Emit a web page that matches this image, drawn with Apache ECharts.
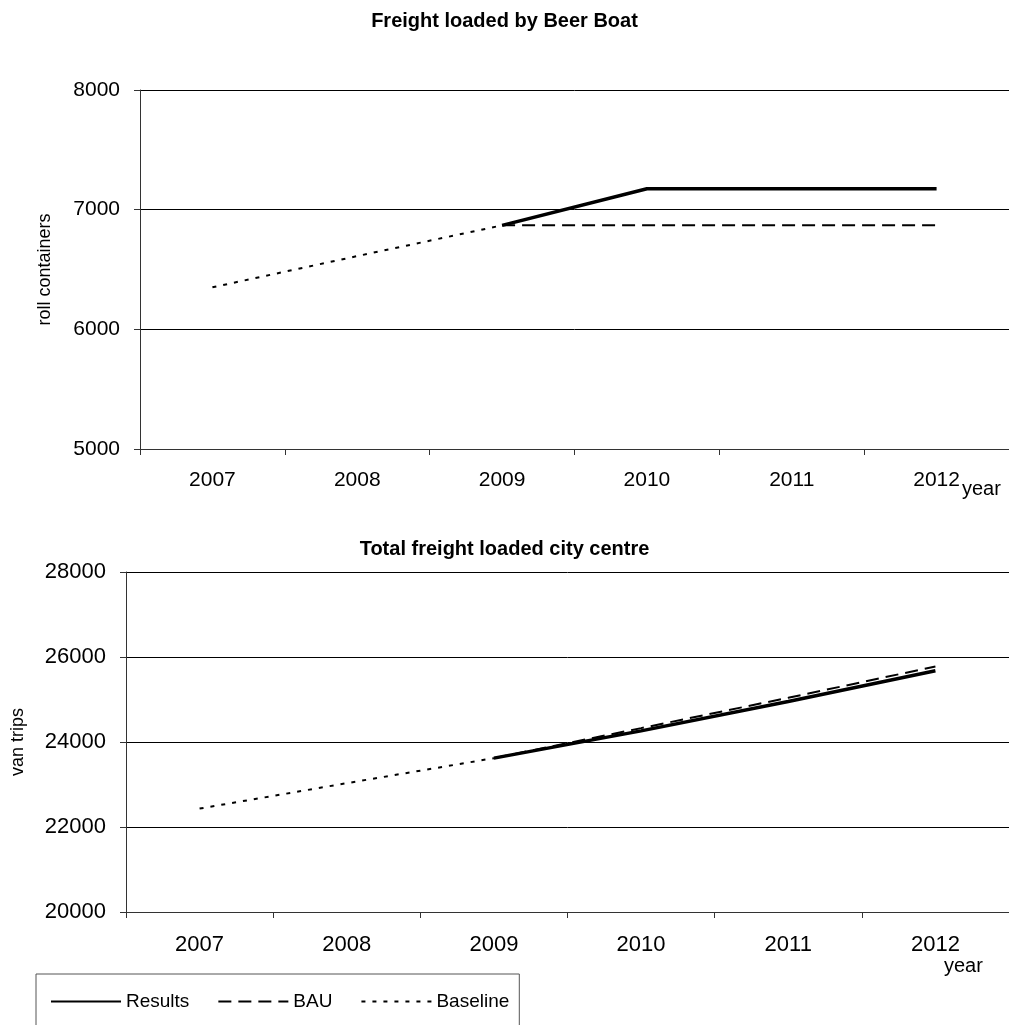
<!DOCTYPE html>
<html>
<head>
<meta charset="utf-8">
<script src="https://cdn.jsdelivr.net/npm/echarts@6/dist/echarts.min.js"></script>
<style>html,body{margin:0;padding:0;background:#fff;}#c{width:1009px;height:1025px;}</style>
</head>
<body>
<div id="c"></div>
<script>
const years = ['2007','2008','2009','2010','2011','2012'];
const boatResults  = [null, null, 6869, 7175, 7175, 7175];
const boatBAU      = [null, null, 6869, 6870, 6870, 6870];
const boatBaseline = [6351, 6612, 6869, null, null, null];
const cityResults  = [null, null, 23620, 24262, 24953, 25676];
const cityBAU      = [null, null, 23620, 24326, 25040, 25777];
const cityBaseline = [22433, 23031, 23620, null, null, null];

const FONT = 'Liberation Sans, Arial, sans-serif';
const chart = echarts.init(document.getElementById('c'));

function xAxisDef(gridIndex, margin, fs){
  return {
    type:'category', gridIndex, data: years, boundaryGap:true,
    axisLine:{lineStyle:{color:'#333', width:1}},
    axisTick:{show:true, alignWithLabel:false, length:6, inside:false, lineStyle:{color:'#333'}},
    axisLabel:{color:'#000', fontSize:fs, fontFamily:FONT, margin},
    splitLine:{show:false}
  };
}
function yAxisDef(gridIndex, min, max, interval, name, gap, fs){
  return {
    type:'value', gridIndex, min, max, interval,
    name, nameLocation:'middle', nameGap:gap,
    nameTextStyle:{color:'#000', fontSize:18, fontFamily:FONT},
    axisLine:{show:true, lineStyle:{color:'#333', width:1}},
    axisTick:{show:true, length:6, lineStyle:{color:'#333'}},
    axisLabel:{color:'#000', fontSize:fs, fontFamily:FONT, margin:20, formatter: v => String(v)},
    splitLine:{show:true, lineStyle:{color:'#000', width:1}}
  };
}
function lines(xi, yi, r, b, bl){
  return [
    {name:'Results', type:'line', xAxisIndex:xi, yAxisIndex:yi, data:r, symbol:'none',
     itemStyle:{color:'#000'}, lineStyle:{color:'#000', width:3.5, type:'solid'}, z:4},
    {name:'BAU', type:'line', xAxisIndex:xi, yAxisIndex:yi, data:b, symbol:'none',
     itemStyle:{color:'#000'}, lineStyle:{color:'#000', width:2, type:[13,7]}, z:3},
    {name:'Baseline', type:'line', xAxisIndex:xi, yAxisIndex:yi, data:bl, symbol:'none',
     itemStyle:{color:'#000'}, lineStyle:{color:'#000', width:2, type:[4,7]}, z:3}
  ];
}

chart.setOption({
  backgroundColor:'#fff',
  animation:false,
  title:[
    {text:'Freight loaded by Beer Boat', left:'center', top:6,
     textStyle:{fontSize:20, fontWeight:'bold', color:'#000', fontFamily:FONT}},
    {text:'Total freight loaded city centre', left:'center', top:534,
     textStyle:{fontSize:20, fontWeight:'bold', color:'#000', fontFamily:FONT}}
  ],
  grid:[
    {left:140, top:90, width:871, height:359},
    {left:126, top:572, width:886, height:340}
  ],
  xAxis:[xAxisDef(0, 21, 21), xAxisDef(1, 22, 22)],
  yAxis:[
    yAxisDef(0, 5000, 8000, 1000, 'roll containers', 86, 21),
    yAxisDef(1, 20000, 28000, 2000, 'van trips', 99, 22)
  ],
  legend:{
    data:['Results','BAU','Baseline'],
    left:36, top:974, orient:'horizontal',
    itemWidth:70, itemHeight:12, itemGap:28,
    padding:[18, 10, 40, 14],
    borderColor:'#555', borderWidth:1,
    itemStyle:{opacity:0, borderWidth:0},
    textStyle:{fontSize:19, color:'#000', fontFamily:FONT}
  },
  graphic:[
    {type:'text', left:962, top:479, style:{text:'year', fontSize:20, fill:'#000', fontFamily:FONT}},
    {type:'text', left:944, top:956, style:{text:'year', fontSize:20, fill:'#000', fontFamily:FONT}}
  ],
  series:[].concat(lines(0,0,boatResults,boatBAU,boatBaseline), lines(1,1,cityResults,cityBAU,cityBaseline))
});
</script>
</body>
</html>
